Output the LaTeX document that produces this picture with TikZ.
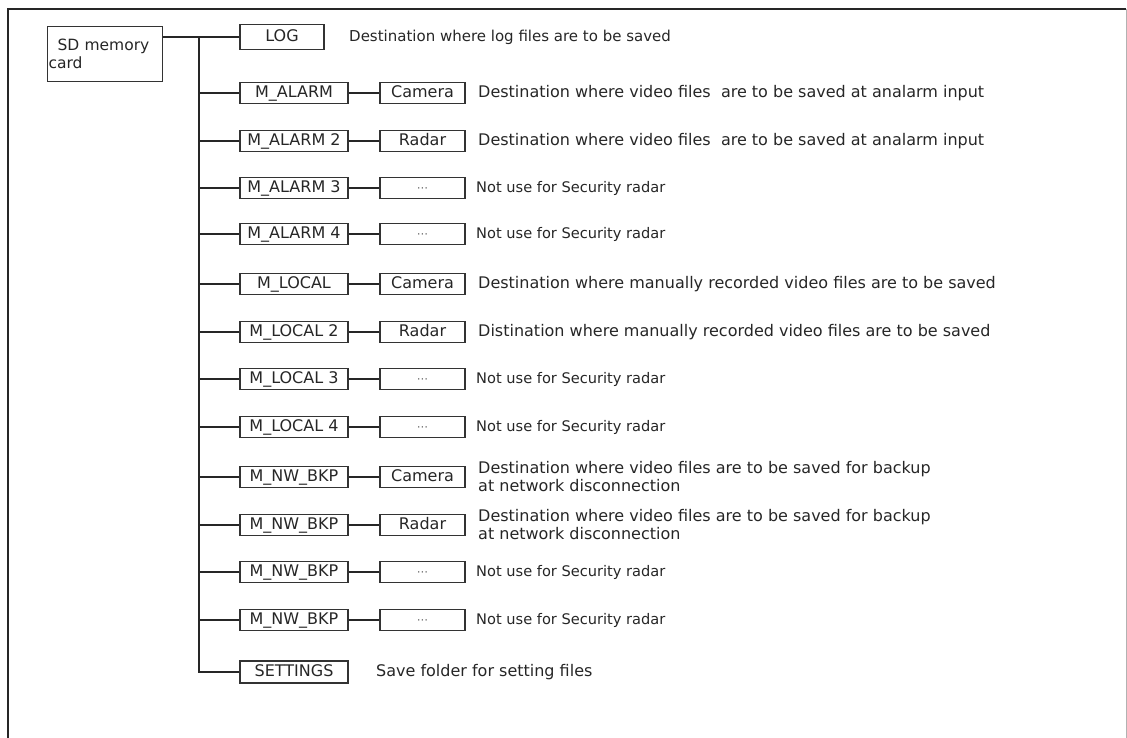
\documentclass[tikz,border=0pt]{standalone}
\usepackage{fontspec}
\setmainfont{DejaVu Sans}
\begin{document}
\begin{tikzpicture}[x=1pt,y=-1pt,
  folder/.style={draw=black!80, line width=1.2pt, text=black!85, minimum width=108pt, minimum height=21pt, inner sep=0pt, text height=11pt, text depth=2pt, font=\fontsize{16}{16}\selectfont},
  subfolder/.style={folder, minimum width=85pt},
  desc/.style={anchor=west, inner sep=0pt, align=left, text=black!85, font=\fontsize{16}{18}\selectfont},
  note/.style={desc, font=\fontsize{14.6}{18}\selectfont},
  link/.style={line width=1.6pt, black!85}]
\useasboundingbox (0,0) rectangle (1127,738);

% Marco
\draw [line width=1.5pt, black!85] (8,738) -- (8,9) -- (1126,9);
\draw [line width=1pt, black!30] (1126,9) -- (1126,738);

% Raiz
\node [folder, minimum width=115pt, minimum height=55pt, anchor=north west, text width=113pt, text height=, text depth=, align=left, inner sep=1pt, font=\fontsize{15.5}{18}\selectfont] (sd) at (47,26) {\hspace*{9pt}SD memory\\card};

% Carpetas
\node [folder, minimum width=84pt, minimum height=25pt] (log) at (282,37) {LOG};
\node [folder] (alarm1) at (294,93) {M\_ALARM};
\node [folder] (alarm2) at (294,141) {M\_ALARM 2};
\node [folder] (alarm3) at (294,188) {M\_ALARM 3};
\node [folder] (alarm4) at (294,234) {M\_ALARM 4};
\node [folder] (local1) at (294,284) {M\_LOCAL};
\node [folder] (local2) at (294,332) {M\_LOCAL 2};
\node [folder] (local3) at (294,379) {M\_LOCAL 3};
\node [folder] (local4) at (294,427) {M\_LOCAL 4};
\node [folder] (bkp1) at (294,477) {M\_NW\_BKP};
\node [folder] (bkp2) at (294,525) {M\_NW\_BKP};
\node [folder] (bkp3) at (294,572) {M\_NW\_BKP};
\node [folder] (bkp4) at (294,620) {M\_NW\_BKP};
\node [folder, minimum height=22pt] (settings) at (294,672) {SETTINGS};

% Subcarpetas
\node [subfolder] (alarm1s) at (422.5,93) {Camera};
\node [subfolder] (alarm2s) at (422.5,141) {Radar};
\node [subfolder] (alarm3s) at (422.5,188) {\fontsize{12}{12}\selectfont\color{black!55}···};
\node [subfolder] (alarm4s) at (422.5,234) {\fontsize{12}{12}\selectfont\color{black!55}···};
\node [subfolder] (local1s) at (422.5,284) {Camera};
\node [subfolder] (local2s) at (422.5,332) {Radar};
\node [subfolder] (local3s) at (422.5,379) {\fontsize{12}{12}\selectfont\color{black!55}···};
\node [subfolder] (local4s) at (422.5,427) {\fontsize{12}{12}\selectfont\color{black!55}···};
\node [subfolder] (bkp1s) at (422.5,477) {Camera};
\node [subfolder] (bkp2s) at (422.5,525) {Radar};
\node [subfolder] (bkp3s) at (422.5,572) {\fontsize{12}{12}\selectfont\color{black!55}···};
\node [subfolder] (bkp4s) at (422.5,620) {\fontsize{12}{12}\selectfont\color{black!55}···};

% Lineas
\coordinate (trunk) at (199,37);
\draw [link] (sd.east |- log.west) -- (log.west);
\draw [link] (trunk) |- (settings.west);
\foreach \f in {alarm1,alarm2,alarm3,alarm4,local1,local2,local3,local4,bkp1,bkp2,bkp3,bkp4} {
  \draw [link] (trunk |- \f.west) -- (\f.west);
  \draw [link] (\f.east) -- (\f s.west);
}

% Descripciones
\node [desc, font=\fontsize{15}{18}\selectfont] (logd) at (349,37) {Destination where log files are to be saved};
\node [desc] (alarm1d) at (478,93) {Destination where video files~ are to be saved at analarm input};
\node [desc] (alarm2d) at (478,141) {Destination where video files~ are to be saved at analarm input};
\node [note] (alarm3d) at (476,188) {Not use for Security radar};
\node [note] (alarm4d) at (476,234) {Not use for Security radar};
\node [desc] (local1d) at (478,284) {Destination where manually recorded video files are to be saved};
\node [desc] (local2d) at (478,332) {Distination where manually recorded video files are to be saved};
\node [note] (local3d) at (476,379) {Not use for Security radar};
\node [note] (local4d) at (476,427) {Not use for Security radar};
\node [desc] (bkp1d) at (478,477) {Destination where video files are to be saved for backup\\at network disconnection};
\node [desc] (bkp2d) at (478,525) {Destination where video files are to be saved for backup\\at network disconnection};
\node [note] (bkp3d) at (476,572) {Not use for Security radar};
\node [note] (bkp4d) at (476,620) {Not use for Security radar};
\node [desc] (settingsd) at (376,672) {Save folder for setting files};
\end{tikzpicture}
\end{document}
